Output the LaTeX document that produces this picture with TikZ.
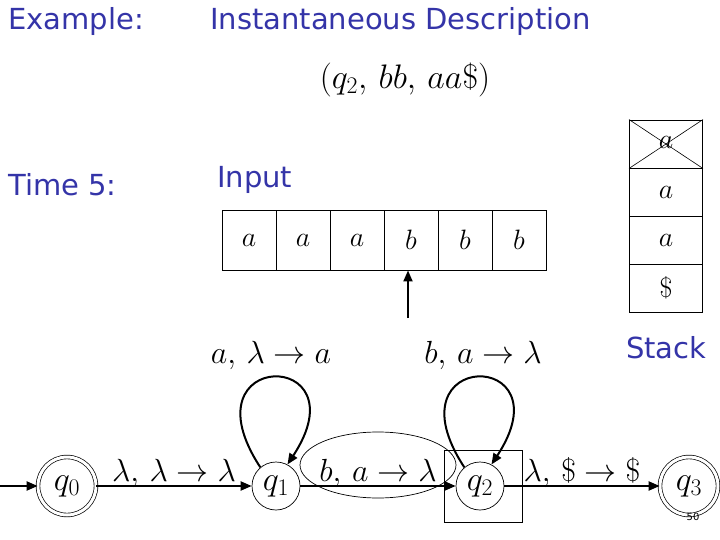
\RequirePackage{fix-cm}
\documentclass[tikz,border=0pt]{standalone}
\usepackage{fontspec}
\setmainfont{DejaVu Sans}
\usetikzlibrary{arrows.meta}
\definecolor{ink}{RGB}{52,52,168}
\begin{document}
\begin{tikzpicture}[
  x=1pt, y=-1pt,
  title/.style={anchor=west, inner sep=0pt, text=ink, font=\fontsize{29}{34}\selectfont},
  lbl/.style={font=\fontsize{32}{36}\selectfont, inner sep=1pt},
  cell/.style={rectangle, draw, line width=0.9pt, minimum width=54pt, minimum height=60pt,
               inner sep=0pt, font=\fontsize{28}{32}\selectfont},
  stk/.style={rectangle, draw, line width=0.9pt, minimum width=73pt, minimum height=48pt,
              inner sep=0pt, font=\fontsize{28}{32}\selectfont},
  state/.style={circle, draw, line width=0.7pt, minimum size=48pt, inner sep=0pt,
                font=\fontsize{34}{38}\selectfont},
  accept/.style={state, minimum size=58pt, double, double distance=3pt},
  edge/.style={-{Triangle[length=11pt, width=9pt]}, line width=2pt}
]
\useasboundingbox (0,0) rectangle (720,540);

% Headings
\node[title] (ex) at (8,22)  {Example:};
\node[title] (id) at (210,22) {Instantaneous Description};
\node[lbl, font=\fontsize{34}{38}\selectfont] (cfg) at (405,80) {$(q_2,\, bb,\, aa\$)$};
\node[title] (tm) at (8,185) {Time 5:};
\node[title] (in) at (217,180) {Input};

% Input tape
\node[cell] (t1) at (249,240) {$a$};
\node[cell] (t2) at (303,240) {$a$};
\node[cell] (t3) at (357,240) {$a$};
\node[cell] (t4) at (411,240) {$b$};
\node[cell] (t5) at (465,240) {$b$};
\node[cell] (t6) at (519,240) {$b$};

% Read head
\coordinate (hd) at (408,318);
\draw[edge] (hd) -- (hd |- t4.south);

% Stack
\node[stk] (s1) at (666,144) {\raisebox{3pt}{$a$}};
\node[stk] (s2) at (666,192) {$a$};
\node[stk] (s3) at (666,240) {$a$};
\node[stk] (s4) at (666,288) {$\$$};
\draw[line width=0.6pt] (s1.north west) -- (s1.south east);
\draw[line width=0.6pt] (s1.south west) -- (s1.north east);
\node[title] (st) at (626,348) {Stack};

% States
\node[accept] (q0) at (67,486) {$q_0$};
\node[state]  (q1) at (276,486) {$q_1$};
\node[state]  (q2) at (480,486) {$q_2$};
\node[accept] (q3) at (689,486) {$q_3$};
\coordinate (init) at (0,486);

% Transitions
\draw[edge] (init) -- (q0);
\draw[edge] (q0) -- (q1) node[midway, above=-4pt, lbl] {$\lambda,\, \lambda \rightarrow \lambda$};
\draw[edge] (q1) -- (q2) node[midway, above=-4pt, lbl] (rd) {$b,\, a \rightarrow \lambda$};
\draw[edge] (q2) -- (q3) node[midway, above=-4pt, lbl] {$\lambda,\, \$ \rightarrow \$$};

% Loops
\draw[edge] (q1.130) .. controls (182,348) and (364,348) .. (q1.62);
\node[lbl] (l1) at (271,355) {$a,\, \lambda \rightarrow a$};
\draw[edge] (q2.130) .. controls (386,348) and (568,348) .. (q2.62);
\node[lbl] (l2) at (483,355) {$b,\, a \rightarrow \lambda$};

% Highlights
\draw[line width=0.7pt] (378,465) ellipse [x radius=78, y radius=33];
\draw[line width=0.8pt] (444,450) rectangle (522,522);
\node[font=\fontsize{10}{12}\selectfont, inner sep=0pt] (pg) at (693,517) {50};
\end{tikzpicture}
\end{document}
